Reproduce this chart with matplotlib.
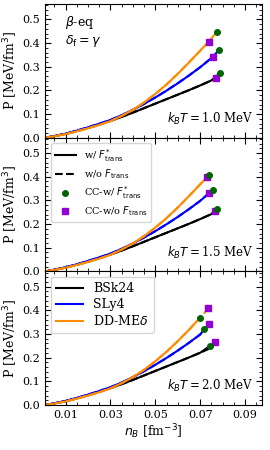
import matplotlib
matplotlib.use("Agg")
import matplotlib.pyplot as plt
from matplotlib.ticker import MultipleLocator
from matplotlib.lines import Line2D

plt.rcParams['font.family'] = 'serif'
plt.rcParams['font.serif'] = ['DejaVu Serif']
plt.rcParams['mathtext.fontset'] = 'dejavusans'

# baryon density grid [fm^-3] and pressure [MeV/fm^3]
nB = [0.0011, 0.005, 0.01, 0.015, 0.02, 0.025, 0.03, 0.035, 0.04, 0.045,
      0.05, 0.055, 0.06, 0.065, 0.07, 0.075]
P_bsk24 = [0.0, 0.007, 0.016, 0.028, 0.041, 0.056, 0.071, 0.088, 0.106, 0.125,
           0.144, 0.163, 0.182, 0.201, 0.221, 0.242]
P_sly4 = [0.0, 0.007, 0.017, 0.030, 0.044, 0.059, 0.075, 0.095, 0.118, 0.143,
          0.170, 0.199, 0.230, 0.263, 0.298, 0.336]
P_ddme = [0.0, 0.006, 0.015, 0.027, 0.040, 0.054, 0.070, 0.092, 0.118, 0.149,
          0.185, 0.225, 0.270, 0.318, 0.368, 0.420]

models = ['BSk24', 'SLy4', r'DD-ME$\delta$']
colors = ['black', 'blue', 'darkorange']
temps = ['1.0', '1.5', '2.0']

# crust-core points, rows = temperature, columns = model
cc_w_nB = [[0.0789, 0.0784, 0.0774],
           [0.0776, 0.0755, 0.0740],
           [0.0744, 0.0719, 0.0699]]
cc_w_P = [[0.274, 0.371, 0.446],
          [0.265, 0.342, 0.406],
          [0.250, 0.321, 0.369]]
cc_wo_nB = [[0.0771, 0.0756, 0.0741],
            [0.0767, 0.0741, 0.0732],
            [0.0767, 0.0741, 0.0736]]
cc_wo_P = [[0.253, 0.342, 0.406],
           [0.254, 0.333, 0.398],
           [0.265, 0.342, 0.409]]

curves = [P_bsk24, P_sly4, P_ddme]


def cut(xs, ys, xend, yend):
    xo = [x for x in xs if x < xend - 0.0015]
    yo = ys[:len(xo)]
    return xo + [xend], yo + [yend]


fig, axes = plt.subplots(3, 1, sharex=True, figsize=(2.7, 4.5), dpi=100)
fig.subplots_adjust(left=0.168, right=0.97, top=0.991, bottom=0.1, hspace=0)

for i, ax in enumerate(axes):
    for j in range(3):
        x1, y1 = cut(nB, curves[j], cc_w_nB[i][j], cc_w_P[i][j])
        x2, y2 = cut(nB, curves[j], cc_wo_nB[i][j], cc_wo_P[i][j])
        ax.plot(x2, y2, color=colors[j], lw=1.5, ls='--')
        ax.plot(x1, y1, color=colors[j], lw=1.5, ls='-')
        ax.plot(cc_w_nB[i][j], cc_w_P[i][j], 'o', color='darkgreen', ms=4, zorder=5)
        ax.plot(cc_wo_nB[i][j], cc_wo_P[i][j], 's', color='darkviolet', ms=4, zorder=4)
    ax.set_xlim(0.001, 0.0975)
    ax.set_ylim(0, 0.565)
    ax.xaxis.set_minor_locator(MultipleLocator(0.005))
    ax.set_xticks([0.01, 0.03, 0.05, 0.07, 0.09])
    ax.yaxis.set_major_locator(MultipleLocator(0.1))
    ax.yaxis.set_minor_locator(MultipleLocator(0.02))
    ax.tick_params(which='both', direction='in', top=True, right=True, labelsize=8)
    ax.tick_params(which='major', length=4)
    ax.tick_params(which='minor', length=2)
    ax.set_ylabel(r'P [MeV/fm$^3$]', fontsize=9, labelpad=2)
    ax.text(0.96, 0.14, r'$k_BT = $' + temps[i] + ' MeV', transform=ax.transAxes,
            ha='right', va='center', fontsize=8.5)

axes[0].text(0.09, 0.86, r'$\beta$-eq', transform=axes[0].transAxes,
             ha='left', va='center', fontsize=9)
axes[0].text(0.09, 0.72, r'$\delta_{\rm f} = \gamma$', transform=axes[0].transAxes,
             ha='left', va='center', fontsize=9)

h1 = [Line2D([], [], color='black', lw=1.5, ls='-'),
      Line2D([], [], color='black', lw=1.5, ls='--'),
      Line2D([], [], color='darkgreen', marker='o', ls='none', ms=4),
      Line2D([], [], color='darkviolet', marker='s', ls='none', ms=4)]
l1 = ['w/ $F^{*}_{\\rm trans}$', 'w/o $F_{\\rm trans}$',
      'CC-w/ $F^{*}_{\\rm trans}$', 'CC-w/o $F_{\\rm trans}$']
axes[1].legend(h1, l1, loc='upper left', fontsize=7, borderaxespad=0.55,
               labelspacing=0.35, handlelength=2.2)

h2 = [Line2D([], [], color=c, lw=1.5) for c in colors]
axes[2].legend(h2, models, loc='upper left', fontsize=9, borderaxespad=0.45,
               labelspacing=0.25, handlelength=2.2)

axes[2].set_xlabel(r'$n_B$ [fm$^{-3}$]', fontsize=9, labelpad=2)

plt.savefig('out.png', dpi=100)
